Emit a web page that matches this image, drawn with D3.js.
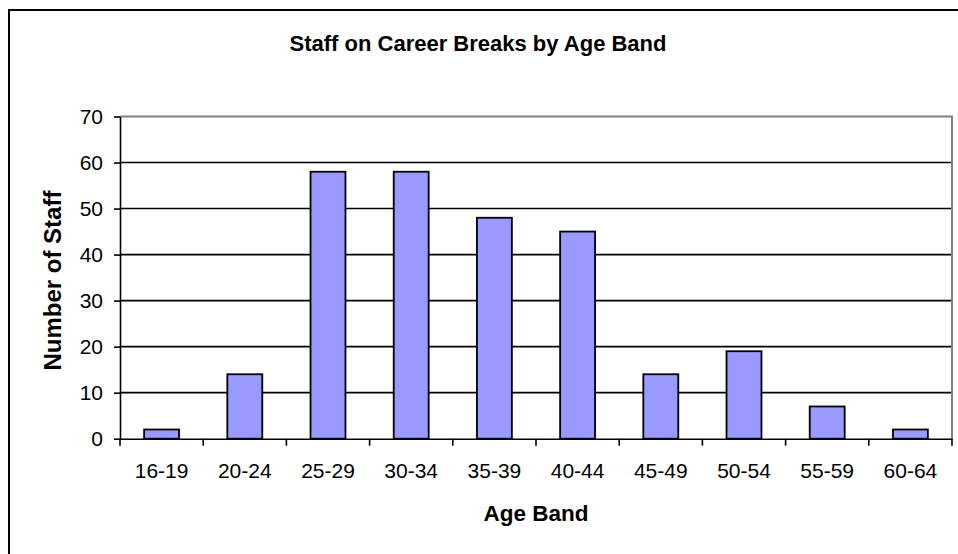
<!DOCTYPE html>
<html><head><meta charset="utf-8">
<script src="https://cdn.jsdelivr.net/npm/d3@7"></script>
<style>body{margin:0;background:#fff}svg{display:block;font-family:"Liberation Sans",Arial,sans-serif}</style>
</head><body>
<svg id="c" width="958" height="554"></svg>
<script>
const categories = ["16-19","20-24","25-29","30-34","35-39","40-44","45-49","50-54","55-59","60-64"];
const staffCounts = [2,14,58,58,48,45,14,19,7,2];
const yTicks = [0,10,20,30,40,50,60,70];
const chartTitle = "Staff on Career Breaks by Age Band";
const xTitle = "Age Band";
const yTitle = "Number of Staff";

const svg = d3.select("#c");
const W = 958, H = 554;
const m = {left:120, right:6, top:116.5, bottom:115.3};
const pw = W - m.left - m.right, ph = H - m.top - m.bottom;

// outer frame
svg.append("rect").attr("x",9).attr("y",10).attr("width",W).attr("height",H)
  .attr("fill","#fff").attr("stroke","#000").attr("stroke-width",2);

const x = d3.scaleBand().domain(categories).range([m.left, m.left+pw]).paddingInner(0.58).paddingOuter(0.29);
const xb = d3.scaleBand().domain(categories).range([m.left, m.left+pw]);
const y = d3.scaleLinear().domain([0,70]).range([m.top+ph, m.top]);

// gridlines
svg.append("g").selectAll("line").data(yTicks.filter(t=>t>0 && t<70)).join("line")
  .attr("x1",m.left).attr("x2",m.left+pw).attr("y1",d=>y(d)).attr("y2",d=>y(d))
  .attr("stroke","#000").attr("stroke-width",1.6);
// plot frame top/right
svg.append("path").attr("d",`M${m.left},${y(70)}H${m.left+pw}V${y(0)}`)
  .attr("fill","none").attr("stroke","#808080").attr("stroke-width",2);

// bars
svg.append("g").selectAll("rect").data(categories).join("rect")
  .attr("x",d=>x(d)).attr("width",x.bandwidth())
  .attr("y",(d,i)=>y(staffCounts[i])).attr("height",(d,i)=>y(0)-y(staffCounts[i]))
  .attr("fill","#9999FF").attr("stroke","#000").attr("stroke-width",1.8);

// y axis
const ya = svg.append("g").attr("transform",`translate(${m.left},0)`)
  .call(d3.axisLeft(y).tickValues(yTicks).tickSize(6).tickPadding(11).tickSizeOuter(0));
ya.select(".domain").attr("stroke","#000").attr("stroke-width",1.6);
ya.selectAll(".tick line").attr("stroke","#000").attr("stroke-width",1.6);
ya.selectAll("text").attr("font-size",21).attr("fill","#000").attr("font-family","Liberation Sans, Arial");

// x axis
const xa = svg.append("g").attr("transform",`translate(0,${y(0)})`)
  .call(d3.axisBottom(xb).tickSize(0).tickPadding(24).tickSizeOuter(0));
xa.select(".domain").attr("stroke","#000").attr("stroke-width",1.6);
xa.selectAll("text").attr("font-size",21).attr("fill","#000").attr("font-family","Liberation Sans, Arial");
// boundary ticks
svg.append("g").selectAll("line").data(categories.concat(["end"])).join("line")
  .attr("x1",(d,i)=>m.left + i*xb.step()).attr("x2",(d,i)=>m.left + i*xb.step())
  .attr("y1",y(0)).attr("y2",y(0)+7).attr("stroke","#000").attr("stroke-width",1.6);

// titles
svg.append("text").attr("x",478).attr("y",51).attr("text-anchor","middle")
  .attr("font-size",22).attr("font-weight","bold").text(chartTitle);
svg.append("text").attr("x",m.left+pw/2).attr("y",521).attr("text-anchor","middle")
  .attr("font-size",22.5).attr("font-weight","bold").text(xTitle);
svg.append("text").attr("transform",`translate(61,${m.top+ph/2+3}) rotate(-90)`).attr("text-anchor","middle")
  .attr("font-size",24).attr("font-weight","bold").text(yTitle);
</script>
</body></html>
